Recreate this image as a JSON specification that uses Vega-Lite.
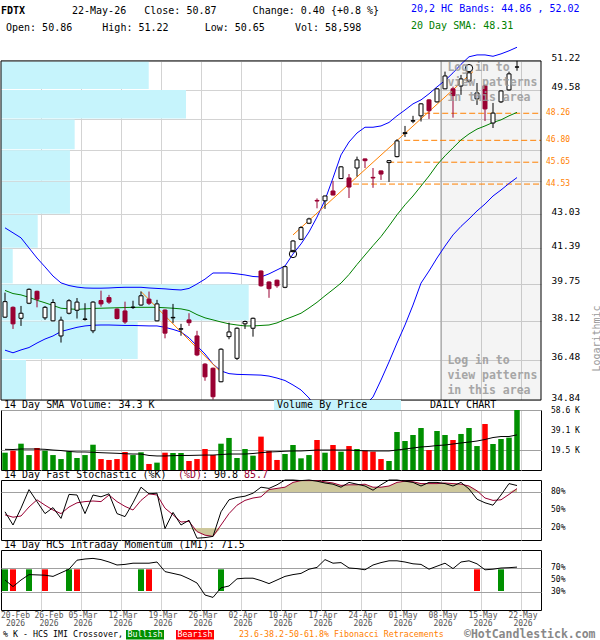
{
  "$schema": "https://vega.github.io/schema/vega-lite/v6.json",
  "padding": 0,
  "background": "white",
  "bounds": "flush",
  "spacing": 0,
  "resolve": {"scale": {"x": "independent", "y": "independent"}, "axis": {"x": "independent", "y": "independent"}},
  "config": {
    "view": {"stroke": null},
    "font": "DejaVu Sans Mono",
    "text": {"font": "DejaVu Sans Mono", "fontSize": 10, "color": "#000"},
    "axis": {"labelFont": "DejaVu Sans Mono", "titleFont": "DejaVu Sans Mono"}
  },
  "datasets": {
    "header": [
      {"line": "a", "part": "sym", "t": "FDTX"},
      {"line": "a", "part": "info1", "t": "22-May-26\u00a0\u00a0\u00a0Close: 50.87\u00a0\u00a0\u00a0\u00a0\u00a0\u00a0Change: 0.40 {+0.8 %}"},
      {"line": "b", "part": "info2", "t": "Open: 50.86\u00a0\u00a0\u00a0\u00a0\u00a0High: 51.22\u00a0\u00a0\u00a0\u00a0\u00a0\u00a0Low: 50.65\u00a0\u00a0\u00a0\u00a0\u00a0Vol: 58,598"},
      {"line": "a", "part": "bands", "t": "20,2 HC Bands: 44.86 , 52.02"},
      {"line": "b", "part": "sma", "t": "20 Day SMA: 48.31"}
    ],
    "px": [
      {"i":0,"o":38.28,"h":39.36,"l":38.25,"c":38.96,"v":16900,"ub":42.37,"lb":36.87,"sma":39.46,"vs":20200,"k":47,"d":42,"ob":80,"os":20,"imi":50},
      {"i":1,"o":38.71,"h":38.75,"l":37.77,"c":37.99,"v":18900,"ub":42.13,"lb":36.76,"sma":39.32,"vs":20000,"k":25,"d":38,"ob":80,"os":20,"imi":39},
      {"i":2,"o":38.23,"h":38.77,"l":37.90,"c":38.45,"v":25700,"ub":41.89,"lb":36.88,"sma":39.26,"vs":20500,"k":53,"d":40,"ob":80,"os":20,"imi":50},
      {"i":3,"o":38.89,"h":39.55,"l":38.85,"c":39.51,"v":14600,"ub":41.41,"lb":36.98,"sma":39.15,"vs":20500,"k":84,"d":55,"ob":80,"os":20,"imi":59},
      {"i":4,"o":39.42,"h":39.45,"l":38.71,"c":39.07,"v":21500,"ub":40.94,"lb":37.17,"sma":39.02,"vs":20500,"k":64,"d":67,"ob":80,"os":20,"imi":58.5},
      {"i":5,"o":38.25,"h":38.77,"l":38.16,"c":38.71,"v":18900,"ub":40.53,"lb":37.34,"sma":38.91,"vs":20200,"k":44,"d":58,"ob":80,"os":20,"imi":58},
      {"i":6,"o":38.12,"h":39.07,"l":38.10,"c":38.92,"v":14600,"ub":40.11,"lb":37.47,"sma":38.79,"vs":19500,"k":54,"d":50,"ob":80,"os":20,"imi":56},
      {"i":7,"o":37.47,"h":38.30,"l":37.19,"c":38.15,"v":10700,"ub":39.80,"lb":37.66,"sma":38.67,"vs":19000,"k":36,"d":44,"ob":80,"os":20,"imi":62},
      {"i":8,"o":38.45,"h":39.07,"l":38.40,"c":39.00,"v":18200,"ub":39.68,"lb":37.75,"sma":38.64,"vs":18100,"k":76,"d":55,"ob":80,"os":20,"imi":68},
      {"i":9,"o":38.58,"h":39.12,"l":38.22,"c":38.94,"v":11700,"ub":39.61,"lb":37.84,"sma":38.62,"vs":17600,"k":75,"d":62,"ob":80,"os":20,"imi":83},
      {"i":10,"o":38.18,"h":38.89,"l":38.13,"c":38.20,"v":14600,"ub":39.57,"lb":37.90,"sma":38.64,"vs":17600,"k":44,"d":64,"ob":80,"os":20,"imi":85},
      {"i":11,"o":37.69,"h":38.98,"l":37.59,"c":38.94,"v":24700,"ub":39.56,"lb":37.93,"sma":38.66,"vs":17300,"k":75,"d":65,"ob":80,"os":20,"imi":86},
      {"i":12,"o":39.01,"h":39.45,"l":38.74,"c":38.86,"v":10700,"ub":39.56,"lb":37.94,"sma":38.67,"vs":16900,"k":72,"d":64,"ob":80,"os":20,"imi":84},
      {"i":13,"o":39.14,"h":39.26,"l":38.86,"c":38.94,"v":9800,"ub":39.57,"lb":37.94,"sma":38.68,"vs":16600,"k":77,"d":75,"ob":80,"os":20,"imi":80},
      {"i":14,"o":38.63,"h":38.66,"l":38.18,"c":38.22,"v":10700,"ub":39.59,"lb":37.93,"sma":38.69,"vs":16300,"k":44,"d":64,"ob":80,"os":20,"imi":75},
      {"i":15,"o":38.55,"h":38.96,"l":37.99,"c":38.07,"v":17600,"ub":39.60,"lb":37.92,"sma":38.70,"vs":15900,"k":39,"d":56,"ob":80,"os":20,"imi":76},
      {"i":16,"o":38.70,"h":39.00,"l":38.64,"c":38.72,"v":14600,"ub":39.60,"lb":37.92,"sma":38.71,"vs":15600,"k":62,"d":50,"ob":80,"os":20,"imi":78},
      {"i":17,"o":38.81,"h":39.41,"l":38.78,"c":39.22,"v":17300,"ub":39.60,"lb":37.91,"sma":38.71,"vs":15600,"k":88,"d":66,"ob":80,"os":20,"imi":78},
      {"i":18,"o":39.07,"h":39.41,"l":38.81,"c":38.89,"v":5900,"ub":39.57,"lb":37.90,"sma":38.71,"vs":14200,"k":77,"d":77,"ob":80,"os":20,"imi":78},
      {"i":19,"o":38.12,"h":39.04,"l":38.10,"c":38.86,"v":7200,"ub":39.55,"lb":37.90,"sma":38.71,"vs":13700,"k":78,"d":75,"ob":80,"os":20,"imi":80},
      {"i":20,"o":38.59,"h":38.62,"l":37.37,"c":37.59,"v":16900,"ub":39.53,"lb":37.84,"sma":38.69,"vs":13700,"k":19,"d":53,"ob":80,"os":20,"imi":64},
      {"i":21,"o":38.25,"h":38.86,"l":38.02,"c":38.27,"v":16600,"ub":39.50,"lb":37.75,"sma":38.67,"vs":14000,"k":46,"d":42,"ob":80,"os":20,"imi":61},
      {"i":22,"o":37.76,"h":37.99,"l":37.48,"c":37.78,"v":16600,"ub":39.48,"lb":37.64,"sma":38.64,"vs":14200,"k":25,"d":30,"ob":80,"os":20,"imi":58},
      {"i":23,"o":38.16,"h":38.45,"l":37.90,"c":38.04,"v":8800,"ub":39.55,"lb":37.39,"sma":38.57,"vs":14200,"k":33,"d":31,"ob":80,"os":20,"imi":52},
      {"i":24,"o":37.47,"h":37.69,"l":36.62,"c":36.67,"v":10700,"ub":39.75,"lb":37.05,"sma":38.39,"vs":14400,"k":3,"d":14,"ob":80,"os":14,"imi":45},
      {"i":25,"o":36.29,"h":36.33,"l":35.61,"c":35.77,"v":20500,"ub":39.97,"lb":36.71,"sma":38.25,"vs":14600,"k":4,"d":8,"ob":80,"os":8,"imi":25},
      {"i":26,"o":36.12,"h":36.15,"l":34.86,"c":34.97,"v":14600,"ub":40.25,"lb":36.29,"sma":38.16,"vs":14600,"k":6,"d":6,"ob":80,"os":6,"imi":21},
      {"i":27,"o":35.57,"h":36.95,"l":35.55,"c":36.91,"v":25700,"ub":40.25,"lb":36.01,"sma":38.07,"vs":15100,"k":47,"d":25,"ob":80,"os":20,"imi":37},
      {"i":28,"o":37.44,"h":38.04,"l":37.33,"c":37.64,"v":31300,"ub":40.25,"lb":35.90,"sma":37.99,"vs":15600,"k":67,"d":44,"ob":80,"os":20,"imi":40},
      {"i":29,"o":36.53,"h":37.84,"l":36.46,"c":37.80,"v":11700,"ub":40.21,"lb":35.87,"sma":37.94,"vs":15600,"k":71,"d":58,"ob":80,"os":20,"imi":52},
      {"i":30,"o":37.99,"h":38.13,"l":37.77,"c":38.09,"v":20500,"ub":40.16,"lb":35.86,"sma":37.90,"vs":15600,"k":73,"d":66,"ob":80,"os":20,"imi":53},
      {"i":31,"o":37.80,"h":38.26,"l":37.44,"c":38.23,"v":14000,"ub":40.09,"lb":35.85,"sma":37.90,"vs":16100,"k":78,"d":70,"ob":80,"os":20,"imi":53},
      {"i":32,"o":40.34,"h":40.37,"l":39.63,"c":39.67,"v":32600,"ub":40.07,"lb":35.84,"sma":37.92,"vs":16900,"k":88,"d":72,"ob":80,"os":20,"imi":49},
      {"i":33,"o":39.84,"h":39.87,"l":39.13,"c":39.54,"v":18600,"ub":40.21,"lb":35.80,"sma":37.94,"vs":17600,"k":86,"d":84,"ob":84,"os":20,"imi":44},
      {"i":34,"o":39.92,"h":39.95,"l":39.58,"c":39.67,"v":9800,"ub":40.39,"lb":35.72,"sma":38.03,"vs":17900,"k":92,"d":86,"ob":86,"os":20,"imi":50},
      {"i":35,"o":39.60,"h":40.58,"l":39.56,"c":40.54,"v":15600,"ub":40.57,"lb":35.62,"sma":38.18,"vs":18300,"k":100,"d":88,"ob":88,"os":20,"imi":56},
      {"i":36,"o":41.24,"h":41.78,"l":41.20,"c":41.74,"v":24400,"ub":41.13,"lb":35.44,"sma":38.31,"vs":18600,"k":100,"d":96,"ob":96,"os":20,"imi":59},
      {"i":37,"o":41.82,"h":42.45,"l":41.78,"c":42.38,"v":11400,"ub":41.60,"lb":35.24,"sma":38.45,"vs":18600,"k":99,"d":99,"ob":99,"os":20,"imi":61},
      {"i":38,"o":42.59,"h":42.86,"l":42.55,"c":42.80,"v":14600,"ub":42.17,"lb":34.92,"sma":38.68,"vs":19000,"k":100,"d":99,"ob":99,"os":20,"imi":68},
      {"i":39,"o":43.71,"h":43.81,"l":43.32,"c":43.68,"v":29300,"ub":42.89,"lb":34.45,"sma":38.93,"vs":19500,"k":98,"d":99,"ob":99,"os":20,"imi":71},
      {"i":40,"o":43.69,"h":43.95,"l":43.29,"c":43.93,"v":16900,"ub":43.73,"lb":34.06,"sma":39.22,"vs":19500,"k":95,"d":97,"ob":97,"os":20,"imi":84},
      {"i":41,"o":44.18,"h":44.69,"l":43.96,"c":43.98,"v":24400,"ub":44.84,"lb":33.87,"sma":39.50,"vs":19500,"k":93,"d":95,"ob":95,"os":20,"imi":78},
      {"i":42,"o":44.81,"h":45.45,"l":44.78,"c":45.41,"v":17900,"ub":46.03,"lb":33.87,"sma":39.79,"vs":19500,"k":88,"d":91,"ob":91,"os":20,"imi":79},
      {"i":43,"o":44.84,"h":45.04,"l":43.83,"c":44.38,"v":23400,"ub":46.71,"lb":33.98,"sma":40.18,"vs":19500,"k":96,"d":92,"ob":92,"os":20,"imi":70},
      {"i":44,"o":45.35,"h":45.94,"l":44.91,"c":45.77,"v":20500,"ub":47.19,"lb":34.25,"sma":40.64,"vs":19000,"k":93,"d":92,"ob":92,"os":20,"imi":69},
      {"i":45,"o":45.82,"h":45.84,"l":45.35,"c":45.73,"v":18900,"ub":47.50,"lb":34.64,"sma":41.08,"vs":18800,"k":90,"d":93,"ob":93,"os":20,"imi":67},
      {"i":46,"o":44.87,"h":45.35,"l":44.34,"c":44.84,"v":17900,"ub":47.50,"lb":34.96,"sma":41.52,"vs":18600,"k":83,"d":88,"ob":88,"os":20,"imi":75},
      {"i":47,"o":45.20,"h":45.22,"l":44.74,"c":45.04,"v":10700,"ub":47.57,"lb":35.64,"sma":41.95,"vs":18600,"k":92,"d":88,"ob":88,"os":20,"imi":79},
      {"i":48,"o":45.63,"h":45.75,"l":44.64,"c":45.73,"v":8800,"ub":47.76,"lb":36.38,"sma":42.46,"vs":18600,"k":100,"d":90,"ob":90,"os":20,"imi":82},
      {"i":49,"o":45.94,"h":46.86,"l":45.90,"c":46.77,"v":37100,"ub":48.12,"lb":37.17,"sma":43.00,"vs":19500,"k":100,"d":96,"ob":96,"os":20,"imi":82},
      {"i":50,"o":47.16,"h":47.57,"l":46.98,"c":47.21,"v":28300,"ub":48.44,"lb":37.94,"sma":43.49,"vs":20500,"k":98,"d":98,"ob":98,"os":20,"imi":80},
      {"i":51,"o":47.83,"h":48.12,"l":47.72,"c":47.86,"v":34200,"ub":48.78,"lb":38.81,"sma":43.93,"vs":21500,"k":96,"d":97,"ob":97,"os":20,"imi":77},
      {"i":52,"o":48.12,"h":48.82,"l":47.81,"c":48.78,"v":41000,"ub":49.00,"lb":39.79,"sma":44.43,"vs":22500,"k":90,"d":94,"ob":94,"os":20,"imi":76},
      {"i":53,"o":49.00,"h":49.05,"l":47.95,"c":48.40,"v":19500,"ub":49.34,"lb":40.34,"sma":44.94,"vs":23000,"k":96,"d":94,"ob":94,"os":20,"imi":68},
      {"i":54,"o":48.89,"h":49.66,"l":48.85,"c":49.62,"v":38100,"ub":49.73,"lb":40.94,"sma":45.51,"vs":23900,"k":96,"d":94,"ob":94,"os":20,"imi":73},
      {"i":55,"o":49.62,"h":50.60,"l":49.60,"c":50.35,"v":34200,"ub":50.09,"lb":41.50,"sma":45.98,"vs":24400,"k":94,"d":95,"ob":95,"os":20,"imi":78},
      {"i":56,"o":49.62,"h":49.74,"l":48.02,"c":49.24,"v":29300,"ub":50.53,"lb":42.03,"sma":46.40,"vs":25400,"k":90,"d":94,"ob":94,"os":20,"imi":69},
      {"i":57,"o":49.78,"h":50.41,"l":49.28,"c":50.18,"v":35200,"ub":51.02,"lb":42.44,"sma":46.82,"vs":26400,"k":96,"d":93,"ob":93,"os":20,"imi":80},
      {"i":58,"o":50.06,"h":50.62,"l":49.98,"c":50.53,"v":41000,"ub":51.46,"lb":42.80,"sma":47.14,"vs":27300,"k":85,"d":90,"ob":90,"os":20,"imi":82},
      {"i":59,"o":49.06,"h":49.95,"l":48.72,"c":49.39,"v":23400,"ub":51.57,"lb":43.19,"sma":47.40,"vs":28300,"k":68,"d":82,"ob":82,"os":20,"imi":77},
      {"i":60,"o":49.80,"h":49.83,"l":47.84,"c":48.50,"v":44900,"ub":51.57,"lb":43.53,"sma":47.57,"vs":29800,"k":62,"d":70,"ob":80,"os":20,"imi":67},
      {"i":61,"o":47.73,"h":48.83,"l":47.46,"c":48.27,"v":25400,"ub":51.49,"lb":43.93,"sma":47.76,"vs":31700,"k":58,"d":66,"ob":80,"os":20,"imi":68},
      {"i":62,"o":48.89,"h":49.53,"l":48.83,"c":49.50,"v":30300,"ub":51.63,"lb":44.23,"sma":47.90,"vs":32700,"k":75,"d":67,"ob":80,"os":20,"imi":70},
      {"i":63,"o":49.56,"h":50.60,"l":49.52,"c":50.47,"v":31600,"ub":51.81,"lb":44.56,"sma":48.12,"vs":32700,"k":94,"d":76,"ob":80,"os":20,"imi":70.5},
      {"i":64,"o":50.86,"h":51.22,"l":50.65,"c":50.87,"v":58598,"ub":52.02,"lb":44.86,"sma":48.31,"vs":34300,"k":90.8,"d":85.7,"ob":85.7,"os":20,"imi":71.5}
    ],
    "vbp": [
      {"lo": 34.84, "hi": 36.478, "v": 32400},
      {"lo": 36.478, "hi": 38.116, "v": 177200},
      {"lo": 38.116, "hi": 39.754, "v": 321100},
      {"lo": 39.754, "hi": 41.392, "v": 15200},
      {"lo": 41.392, "hi": 43.03, "v": 47600},
      {"lo": 43.03, "hi": 44.668, "v": 89400},
      {"lo": 44.668, "hi": 46.306, "v": 89400},
      {"lo": 46.306, "hi": 47.944, "v": 95500},
      {"lo": 47.944, "hi": 49.582, "v": 239800},
      {"lo": 49.582, "hi": 51.22, "v": 191500}
    ],
    "fib": [
      {"level": 48.26, "from": 52.4},
      {"level": 46.80, "from": 49.9},
      {"level": 45.65, "from": 47.9},
      {"level": 44.53, "from": 43.5}
    ],
    "trend": [
      {"seg": "down", "i": 17, "p": 39.41},
      {"seg": "down", "i": 26.8, "p": 36.02},
      {"seg": "up", "i": 36, "p": 42.03},
      {"seg": "up", "i": 58.5, "p": 50.60}
    ],
    "piv": [
      {"i": 36, "p": 41.13},
      {"i": 58, "p": 50.80}
    ],
    "xover": [
      {"i": 0, "t": "bull"}, {"i": 1, "t": "bear"}, {"i": 3, "t": "bull"}, {"i": 5, "t": "bear"},
      {"i": 8, "t": "bull"}, {"i": 9, "t": "bear"}, {"i": 17, "t": "bull"}, {"i": 18, "t": "bear"},
      {"i": 27, "t": "bull"}, {"i": 59, "t": "bear"}, {"i": 62, "t": "bull"}
    ],
    "dates": [
      {"i": 0, "d": "20-Feb", "y": "2026"}, {"i": 4, "d": "26-Feb", "y": "2026"},
      {"i": 9, "d": "05-Mar", "y": "2026"}, {"i": 14, "d": "12-Mar", "y": "2026"},
      {"i": 19, "d": "19-Mar", "y": "2026"}, {"i": 24, "d": "26-Mar", "y": "2026"},
      {"i": 29, "d": "02-Apr", "y": "2026"}, {"i": 34, "d": "10-Apr", "y": "2026"},
      {"i": 39, "d": "17-Apr", "y": "2026"}, {"i": 44, "d": "24-Apr", "y": "2026"},
      {"i": 49, "d": "01-May", "y": "2026"}, {"i": 54, "d": "08-May", "y": "2026"},
      {"i": 59, "d": "15-May", "y": "2026"}, {"i": 64, "d": "22-May", "y": "2026"}
    ]
  },
  "vconcat": [
    {
      "width": 600, "height": 34,
      "data": {"name": "header"},
      "layer": [
        {
          "transform": [{"filter": "datum.part === 'sym'"}],
          "mark": {"type": "text", "align": "left", "baseline": "middle", "fontWeight": "bold", "dy": 2},
          "encoding": {
            "x": {"datum": -0.5, "type": "quantitative", "scale": {"domain": [-0.5, 74.5], "nice": false, "zero": false, "padding": 0}, "axis": null},
            "y": {"field": "line", "type": "nominal", "scale": {"domain": ["a", "b"], "paddingInner": 0, "paddingOuter": 0}, "axis": null},
            "text": {"field": "t", "type": "nominal"}
          }
        },
        {
          "transform": [{"filter": "datum.part === 'info1'"}],
          "mark": {"type": "text", "align": "left", "baseline": "middle", "dy": 2},
          "encoding": {
            "x": {"datum": 8.375, "type": "quantitative"},
            "y": {"field": "line", "type": "nominal"},
            "text": {"field": "t", "type": "nominal"}
          }
        },
        {
          "transform": [{"filter": "datum.part === 'info2'"}],
          "mark": {"type": "text", "align": "left", "baseline": "middle", "dy": 2},
          "encoding": {
            "x": {"datum": 0.125, "type": "quantitative"},
            "y": {"field": "line", "type": "nominal"},
            "text": {"field": "t", "type": "nominal"}
          }
        },
        {
          "transform": [{"filter": "datum.part === 'bands' || datum.part === 'sma'"}],
          "mark": {"type": "text", "align": "left", "baseline": "middle"},
          "encoding": {
            "x": {"datum": 50.75, "type": "quantitative"},
            "y": {"field": "line", "type": "nominal"},
            "text": {"field": "t", "type": "nominal"},
            "color": {"condition": {"test": "datum.part === 'bands'", "value": "#0000ff"}, "value": "#008000"}
          }
        }
      ]
    },
    {
      "width": 540, "height": 366,
      "resolve": {"scale": {"x": "independent"}, "axis": {"x": "independent"}},
      "layer": [
        {
          "data": {"name": "vbp"},
          "mark": {"type": "rect", "color": "#c6f4fc", "yOffset": 0.5, "y2Offset": -0.5},
          "encoding": {
            "x": {"field": "v", "type": "quantitative", "scale": {"domain": [0, 700000], "nice": false, "zero": true, "padding": 0}, "axis": null},
            "x2": {"datum": 0},
            "y": {
              "field": "hi", "type": "quantitative",
              "scale": {"type": "log", "domain": [34.84, 52.81], "nice": false, "zero": false},
              "axis": {
                "orient": "right",
                "values": [34.84, 36.478, 38.116, 39.754, 41.392, 43.03, 44.668, 46.306, 47.944, 49.582, 51.22],
                "labelExpr": "(datum.value > 44 && datum.value < 48.5) ? '' : format(datum.value, '.2f')",
                "grid": true, "gridColor": "#d3d3d3", "domain": false, "ticks": false, "tickSize": 0,
                "labelPadding": 10, "labelFontSize": 9.5, "labelColor": "#000", "labelBaseline": "alphabetic", "labelAlign": "left",
                "labelOverlap": false, "labelFlush": false, "labelBound": false,
                "title": "Logarithmic", "titleColor": "#999", "titleFontSize": 10, "titleFontWeight": "normal",
                "titleAngle": 270, "titleX": 55, "titleY": 304, "titleAlign": "center", "titleBaseline": "middle"
              }
            },
            "y2": {"field": "lo"}
          }
        },
        {
          "layer": [
            {
              "data": {"values": [{}]},
              "mark": {"type": "rect", "color": "#ffffff"},
              "encoding": {
                "x": {"datum": -0.5, "type": "quantitative", "scale": {"domain": [-0.5, 67], "nice": false, "zero": false, "padding": 0},
                  "axis": {"values": [4.5, 9.5, 14.5, 19.5, 24.5, 29.5, 34.5, 39.5, 44.5, 49.5, 54.5, 59.5, 64.5], "grid": true, "gridColor": "#d3d3d3", "labels": false, "ticks": false, "domain": false, "title": null}},
                "x2": {"datum": 67},
                "y": {"datum": 51.22, "type": "quantitative", "scale": {"type": "log", "domain": [34.84, 52.81], "nice": false, "zero": false}},
                "y2": {"datum": 52.81}
              }
            },
            {
              "data": {"values": [{}]},
              "mark": {"type": "rect", "color": "#000000", "opacity": 0.045},
              "encoding": {
                "x": {"datum": 54.5, "type": "quantitative"},
                "x2": {"datum": 67},
                "y": {"datum": 34.84, "type": "quantitative"},
                "y2": {"datum": 51.22}
              }
            },
            {
              "data": {"values": [{}]},
              "mark": {"type": "rule", "color": "#999999", "strokeWidth": 1},
              "encoding": {
                "x": {"datum": 54.5, "type": "quantitative"},
                "y": {"datum": 34.84, "type": "quantitative"},
                "y2": {"datum": 51.22}
              }
            },
            {
              "data": {"name": "fib"},
              "mark": {"type": "rule", "color": "#ff8000", "strokeWidth": 1, "strokeDash": [6, 3]},
              "encoding": {
                "x": {"field": "from", "type": "quantitative"},
                "x2": {"datum": 67},
                "y": {"field": "level", "type": "quantitative"}
              }
            },
            {
              "data": {"name": "fib"},
              "mark": {"type": "text", "color": "#ff8000", "fontSize": 8, "align": "left", "baseline": "middle"},
              "encoding": {
                "x": {"datum": 67.625, "type": "quantitative"},
                "y": {"field": "level", "type": "quantitative"},
                "text": {"field": "level", "type": "quantitative", "format": ".2f"}
              }
            },
            {
              "data": {"name": "px"},
              "mark": {"type": "line", "color": "#0000ff", "strokeWidth": 1, "clip": true},
              "encoding": {
                "x": {"field": "i", "type": "quantitative"},
                "y": {"field": "ub", "type": "quantitative"}
              }
            },
            {
              "data": {"name": "px"},
              "mark": {"type": "line", "color": "#0000ff", "strokeWidth": 1, "clip": true},
              "encoding": {
                "x": {"field": "i", "type": "quantitative"},
                "y": {"field": "lb", "type": "quantitative"}
              }
            },
            {
              "data": {"name": "px"},
              "mark": {"type": "line", "color": "#008000", "strokeWidth": 1, "clip": true},
              "encoding": {
                "x": {"field": "i", "type": "quantitative"},
                "y": {"field": "sma", "type": "quantitative"}
              }
            },
            {
              "data": {"name": "trend"},
              "mark": {"type": "line", "color": "#ff8000", "strokeWidth": 1},
              "encoding": {
                "x": {"field": "i", "type": "quantitative"},
                "y": {"field": "p", "type": "quantitative"},
                "detail": {"field": "seg", "type": "nominal"}
              }
            },
            {
              "data": {"name": "px"},
              "mark": {"type": "rule", "strokeWidth": 1},
              "encoding": {
                "x": {"field": "i", "type": "quantitative"},
                "y": {"field": "l", "type": "quantitative"},
                "y2": {"field": "h"},
                "color": {"condition": {"test": "datum.c >= datum.o", "value": "#000000"}, "value": "#990033"}
              }
            },
            {
              "data": {"name": "px"},
              "mark": {"type": "bar", "orient": "vertical", "size": 4, "strokeWidth": 1},
              "encoding": {
                "x": {"field": "i", "type": "quantitative"},
                "y": {"field": "o", "type": "quantitative"},
                "y2": {"field": "c"},
                "fill": {"condition": {"test": "datum.c >= datum.o", "value": "#ffffff"}, "value": "#990033"},
                "stroke": {"condition": {"test": "datum.c >= datum.o", "value": "#000000"}, "value": "#990033"}
              }
            },
            {
              "data": {"name": "piv"},
              "mark": {"type": "point", "shape": "circle", "filled": false, "size": 55, "color": "#000000", "strokeWidth": 1, "opacity": 1},
              "encoding": {
                "x": {"field": "i", "type": "quantitative"},
                "y": {"field": "p", "type": "quantitative"}
              }
            },
            {
              "data": {"values": [{}]},
              "mark": {"type": "text", "text": ["Log in to", "view patterns", "in this area"], "align": "left", "baseline": "top", "fontSize": 11.5, "fontWeight": "bold", "color": "#999999", "opacity": 0.85, "lineHeight": 15},
              "encoding": {
                "x": {"datum": 55.3, "type": "quantitative"},
                "y": {"datum": 51.16, "type": "quantitative"}
              }
            },
            {
              "data": {"values": [{}]},
              "mark": {"type": "text", "text": ["Log in to", "view patterns", "in this area"], "align": "left", "baseline": "top", "fontSize": 11.5, "fontWeight": "bold", "color": "#999999", "opacity": 0.85, "lineHeight": 15},
              "encoding": {
                "x": {"datum": 55.3, "type": "quantitative"},
                "y": {"datum": 36.67, "type": "quantitative"}
              }
            },
            {
              "data": {"values": [{}]},
              "mark": {"type": "rect", "fillOpacity": 0, "stroke": "#000000", "strokeWidth": 1},
              "encoding": {
                "x": {"datum": -0.5, "type": "quantitative"},
                "x2": {"datum": 67},
                "y": {"datum": 34.84, "type": "quantitative"},
                "y2": {"datum": 51.22}
              }
            }
          ]
        }
      ]
    },
    {
      "width": 540, "height": 10,
      "data": {"values": [{}]},
      "layer": [
        {
          "mark": {"type": "rect", "color": "#c6f4fc"},
          "encoding": {
            "x": {"datum": 33.625, "type": "quantitative", "scale": {"domain": [-0.5, 67], "nice": false, "zero": false, "padding": 0}, "axis": null},
            "x2": {"datum": 49.5},
            "y": {"datum": 0, "type": "quantitative", "scale": {"domain": [0, 1], "nice": false, "zero": false}, "axis": null},
            "y2": {"datum": 1}
          }
        },
        {
          "mark": {"type": "text", "align": "left", "baseline": "middle", "text": "14 Day SMA Volume: 34.3 K"},
          "encoding": {"x": {"datum": -0.125, "type": "quantitative"}, "y": {"datum": 0.5, "type": "quantitative"}}
        },
        {
          "mark": {"type": "text", "align": "left", "baseline": "middle", "text": "Volume By Price"},
          "encoding": {"x": {"datum": 34, "type": "quantitative"}, "y": {"datum": 0.5, "type": "quantitative"}}
        },
        {
          "mark": {"type": "text", "align": "left", "baseline": "middle", "text": "DAILY CHART"},
          "encoding": {"x": {"datum": 53.125, "type": "quantitative"}, "y": {"datum": 0.5, "type": "quantitative"}}
        }
      ]
    },
    {
      "width": 540, "height": 60,
      "view": {"stroke": "#000000"},
      "data": {"name": "px"},
      "layer": [
        {
          "mark": {"type": "bar", "orient": "vertical", "size": 5.5},
          "encoding": {
            "x": {"field": "i", "type": "quantitative", "scale": {"domain": [-0.5, 67], "nice": false, "zero": false, "padding": 0},
              "axis": {"values": [4.5, 9.5, 14.5, 19.5, 24.5, 29.5, 34.5, 39.5, 44.5, 49.5, 54.5, 59.5, 64.5], "grid": true, "gridColor": "#d3d3d3", "labels": false, "ticks": false, "domain": false, "title": null}},
            "y": {"field": "v", "type": "quantitative", "scale": {"domain": [0, 58600], "nice": false, "zero": true},
              "axis": {"orient": "right", "values": [19500, 39100, 58600], "grid": true, "gridColor": "#a0a0a0", "domain": false, "ticks": false, "labels": false, "title": null}},
            "color": {"condition": {"test": "datum.c >= datum.o", "value": "#009000"}, "value": "#ff0000"}
          }
        },
        {
          "mark": {"type": "line", "color": "#000000", "strokeWidth": 1},
          "encoding": {
            "x": {"field": "i", "type": "quantitative"},
            "y": {"field": "vs", "type": "quantitative"}
          }
        },
        {
          "data": {"values": [{"val": 19500, "lab": "19.5 K"}, {"val": 39100, "lab": "39.1 K"}, {"val": 58600, "lab": "58.6 K"}]},
          "mark": {"type": "text", "align": "left", "baseline": "middle", "fontSize": 8, "dy": 1},
          "encoding": {
            "x": {"datum": 68.25, "type": "quantitative"},
            "y": {"field": "val", "type": "quantitative"},
            "text": {"field": "lab", "type": "nominal"}
          }
        }
      ]
    },
    {
      "width": 540, "height": 10,
      "data": {"values": [{}]},
      "layer": [
        {
          "mark": {"type": "text", "align": "left", "baseline": "middle", "text": "14 Day Fast Stochastic (%K)"},
          "encoding": {"x": {"datum": -0.125, "type": "quantitative", "scale": {"domain": [-0.5, 67], "nice": false, "zero": false, "padding": 0}, "axis": null}}
        },
        {
          "mark": {"type": "text", "align": "left", "baseline": "middle", "text": "(%D)", "color": "#990033"},
          "encoding": {"x": {"datum": 21.625, "type": "quantitative"}}
        },
        {
          "mark": {"type": "text", "align": "left", "baseline": "middle", "text": ": 90.8"},
          "encoding": {"x": {"datum": 24.625, "type": "quantitative"}}
        },
        {
          "mark": {"type": "text", "align": "left", "baseline": "middle", "text": "85.7", "color": "#990033"},
          "encoding": {"x": {"datum": 29.875, "type": "quantitative"}}
        }
      ]
    },
    {
      "width": 540, "height": 60,
      "view": {"stroke": "#000000"},
      "data": {"name": "px"},
      "layer": [
        {
          "mark": {"type": "area", "orient": "vertical", "color": "#cdc79b"},
          "encoding": {
            "x": {"field": "i", "type": "quantitative", "scale": {"domain": [-0.5, 67], "nice": false, "zero": false, "padding": 0},
              "axis": {"values": [4.5, 9.5, 14.5, 19.5, 24.5, 29.5, 34.5, 39.5, 44.5, 49.5, 54.5, 59.5, 64.5], "grid": true, "gridColor": "#d3d3d3", "labels": false, "ticks": false, "domain": false, "title": null}},
            "y": {"field": "ob", "type": "quantitative", "scale": {"domain": [0, 100], "nice": false, "zero": true},
              "axis": {"orient": "right", "values": [20, 50, 80], "grid": true, "gridColor": "#a0a0a0",
                "gridDash": {"condition": {"test": "datum.value === 50", "value": [5, 4]}, "value": []},
                "domain": false, "ticks": false, "labels": false, "title": null}},
            "y2": {"datum": 80}
          }
        },
        {
          "mark": {"type": "area", "orient": "vertical", "color": "#cdc79b"},
          "encoding": {
            "x": {"field": "i", "type": "quantitative"},
            "y": {"field": "os", "type": "quantitative"},
            "y2": {"datum": 20}
          }
        },
        {
          "mark": {"type": "line", "color": "#990033", "strokeWidth": 1},
          "encoding": {
            "x": {"field": "i", "type": "quantitative"},
            "y": {"field": "d", "type": "quantitative"}
          }
        },
        {
          "mark": {"type": "line", "color": "#000000", "strokeWidth": 1},
          "encoding": {
            "x": {"field": "i", "type": "quantitative"},
            "y": {"field": "k", "type": "quantitative"}
          }
        },
        {
          "data": {"values": [{"val": 80, "lab": "80%"}, {"val": 50, "lab": "50%"}, {"val": 20, "lab": "20%"}]},
          "mark": {"type": "text", "align": "left", "baseline": "middle", "fontSize": 8},
          "encoding": {
            "x": {"datum": 68.25, "type": "quantitative"},
            "y": {"field": "val", "type": "quantitative"},
            "text": {"field": "lab", "type": "nominal"}
          }
        }
      ]
    },
    {
      "width": 540, "height": 10,
      "data": {"values": [{}]},
      "mark": {"type": "text", "align": "left", "baseline": "middle", "text": "14 Day HCS Intraday Momentum (IMI): 71.5"},
      "encoding": {"x": {"datum": -0.125, "type": "quantitative", "scale": {"domain": [-0.5, 67], "nice": false, "zero": false, "padding": 0}, "axis": null}}
    },
    {
      "width": 540, "height": 60,
      "view": {"stroke": "#000000"},
      "layer": [
        {
          "data": {"name": "xover"},
          "mark": {"type": "bar", "orient": "vertical", "size": 6},
          "encoding": {
            "x": {"field": "i", "type": "quantitative", "scale": {"domain": [-0.5, 67], "nice": false, "zero": false, "padding": 0},
              "axis": {"values": [4.5, 9.5, 14.5, 19.5, 24.5, 29.5, 34.5, 39.5, 44.5, 49.5, 54.5, 59.5, 64.5], "grid": true, "gridColor": "#d3d3d3", "labels": false, "ticks": false, "domain": false, "title": null}},
            "y": {"datum": 31.7, "type": "quantitative", "scale": {"domain": [0, 100], "nice": false, "zero": true},
              "axis": {"orient": "right", "values": [30, 50, 70], "grid": true, "gridColor": "#a0a0a0",
                "gridDash": {"condition": {"test": "datum.value === 50", "value": [5, 4]}, "value": []},
                "domain": false, "ticks": false, "labels": false, "title": null}},
            "y2": {"datum": 67.8},
            "color": {"condition": {"test": "datum.t === 'bull'", "value": "#009000"}, "value": "#ff0000"}
          }
        },
        {
          "data": {"name": "px"},
          "mark": {"type": "line", "color": "#000000", "strokeWidth": 1},
          "encoding": {
            "x": {"field": "i", "type": "quantitative"},
            "y": {"field": "imi", "type": "quantitative"}
          }
        },
        {
          "data": {"values": [{"val": 70, "lab": "70%"}, {"val": 50, "lab": "50%"}, {"val": 30, "lab": "30%"}]},
          "mark": {"type": "text", "align": "left", "baseline": "middle", "fontSize": 8},
          "encoding": {
            "x": {"datum": 68.25, "type": "quantitative"},
            "y": {"field": "val", "type": "quantitative"},
            "text": {"field": "lab", "type": "nominal"}
          }
        }
      ]
    },
    {
      "width": 540, "height": 20,
      "data": {"name": "dates"},
      "layer": [
        {
          "transform": [{"filter": "datum.i > 4"}],
          "mark": {"type": "text", "align": "center", "baseline": "middle", "fontSize": 8, "color": "#555555", "dx": 6, "dy": -4},
          "encoding": {
            "x": {"field": "i", "type": "quantitative", "scale": {"domain": [-0.5, 67], "nice": false, "zero": false, "padding": 0}, "axis": null},
            "text": {"field": "d", "type": "nominal"}
          }
        },
        {
          "transform": [{"filter": "datum.i > 4"}],
          "mark": {"type": "text", "align": "center", "baseline": "middle", "fontSize": 8, "color": "#555555", "dx": 6, "dy": 4},
          "encoding": {
            "x": {"field": "i", "type": "quantitative"},
            "text": {"field": "y", "type": "nominal"}
          }
        },
        {
          "transform": [{"filter": "datum.i === 0"}],
          "mark": {"type": "text", "align": "center", "baseline": "middle", "fontSize": 8, "color": "#555555", "dx": 10.5, "dy": -4},
          "encoding": {
            "x": {"field": "i", "type": "quantitative"},
            "text": {"field": "d", "type": "nominal"}
          }
        },
        {
          "transform": [{"filter": "datum.i === 0"}],
          "mark": {"type": "text", "align": "center", "baseline": "middle", "fontSize": 8, "color": "#555555", "dx": 10.5, "dy": 4},
          "encoding": {
            "x": {"field": "i", "type": "quantitative"},
            "text": {"field": "y", "type": "nominal"}
          }
        },
        {
          "transform": [{"filter": "datum.i === 4"}],
          "mark": {"type": "text", "align": "center", "baseline": "middle", "fontSize": 8, "color": "#555555", "dx": 12, "dy": -4},
          "encoding": {
            "x": {"field": "i", "type": "quantitative"},
            "text": {"field": "d", "type": "nominal"}
          }
        },
        {
          "transform": [{"filter": "datum.i === 4"}],
          "mark": {"type": "text", "align": "center", "baseline": "middle", "fontSize": 8, "color": "#555555", "dx": 12, "dy": 4},
          "encoding": {
            "x": {"field": "i", "type": "quantitative"},
            "text": {"field": "y", "type": "nominal"}
          }
        }
      ]
    },
    {
      "width": 600, "height": 10,
      "data": {"values": [{}]},
      "layer": [
        {
          "mark": {"type": "text", "align": "left", "baseline": "middle", "fontSize": 8.3, "text": "% K - HCS IMI Crossover,"},
          "encoding": {
            "x": {"datum": -0.25, "type": "quantitative", "scale": {"domain": [-0.5, 74.5], "nice": false, "zero": false, "padding": 0}, "axis": null},
            "y": {"datum": 0.5, "type": "quantitative", "scale": {"domain": [0, 1], "nice": false, "zero": false}, "axis": null}
          }
        },
        {
          "mark": {"type": "rect", "color": "#009000"},
          "encoding": {"x": {"datum": 15.125, "type": "quantitative"}, "x2": {"datum": 19.875}, "y": {"datum": 0.05, "type": "quantitative"}, "y2": {"datum": 1}}
        },
        {
          "mark": {"type": "text", "align": "center", "baseline": "middle", "fontSize": 8.3, "color": "#ffffff", "text": "Bullish"},
          "encoding": {"x": {"datum": 17.5, "type": "quantitative"}, "y": {"datum": 0.5, "type": "quantitative"}}
        },
        {
          "mark": {"type": "rect", "color": "#ff0000"},
          "encoding": {"x": {"datum": 21.375, "type": "quantitative"}, "x2": {"datum": 26.125}, "y": {"datum": 0.05, "type": "quantitative"}, "y2": {"datum": 1}}
        },
        {
          "mark": {"type": "text", "align": "center", "baseline": "middle", "fontSize": 8.3, "color": "#ffffff", "text": "Bearish"},
          "encoding": {"x": {"datum": 23.75, "type": "quantitative"}, "y": {"datum": 0.5, "type": "quantitative"}}
        },
        {
          "mark": {"type": "text", "align": "left", "baseline": "middle", "fontSize": 8.3, "color": "#ff8000", "text": "23.6-38.2-50-61.8% Fibonacci Retracements"},
          "encoding": {"x": {"datum": 29.25, "type": "quantitative"}, "y": {"datum": 0.5, "type": "quantitative"}}
        },
        {
          "mark": {"type": "text", "align": "left", "baseline": "middle", "fontSize": 11.5, "fontWeight": "bold", "color": "#888888", "text": "\u00a9HotCandlestick.com"},
          "encoding": {"x": {"datum": 57.375, "type": "quantitative"}, "y": {"datum": 0.5, "type": "quantitative"}}
        }
      ]
    }
  ]
}
